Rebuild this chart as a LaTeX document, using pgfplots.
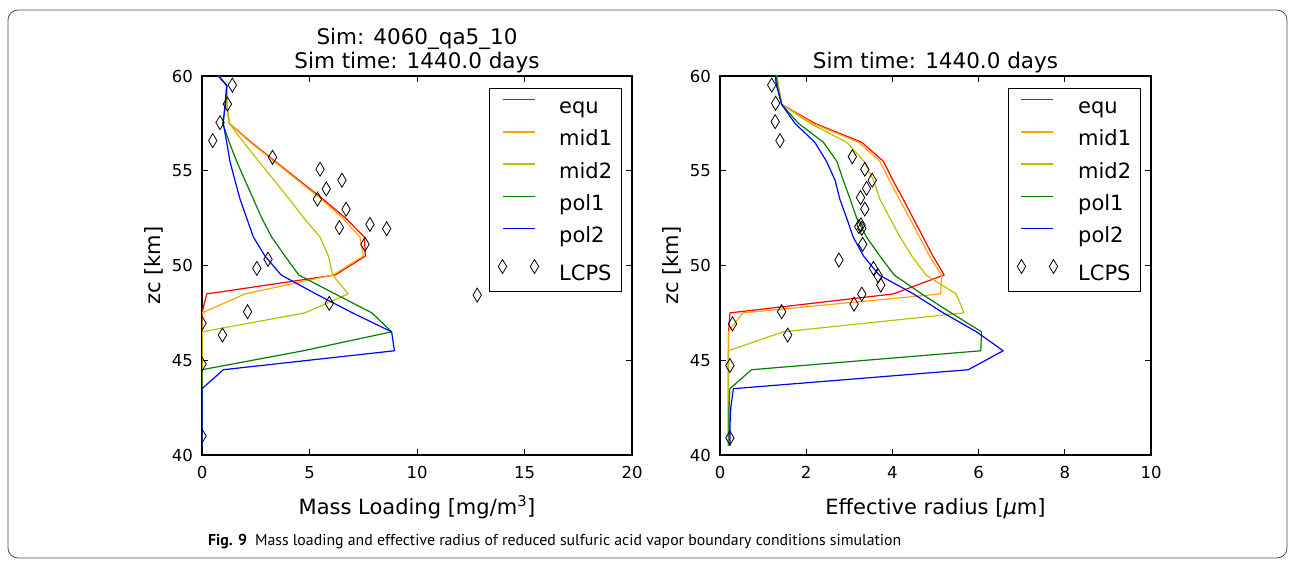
\documentclass[border=0pt]{standalone}
\usepackage{fontspec}
\setmainfont{DejaVu Sans}
\newfontfamily\capfont{PT Sans}
\usepackage{pgfplots}
\pgfplotsset{compat=1.18}
\usepackage{pgfplotstable}

\definecolor{mplorange}{rgb}{1,0.647,0}
\definecolor{mplyellow}{rgb}{0.75,0.75,0}
\definecolor{mplgreen}{rgb}{0,0.5,0}

\pgfplotstableread{
z equ mid1 mid2 pol1 pol2
60.5 0.40 0.40 0.40 0.40 0.37
59.5 1.15 1.15 1.15 1.15 1.15
58.5 1.15 1.15 1.15 1.10 1.07
57.5 1.27 1.27 1.27 0.96 0.99
56.5 2.29 2.25 1.93 1.27 1.15
55.5 3.40 3.35 2.64 1.61 1.30
54.5 4.51 4.45 3.35 2.00 1.53
53.5 5.63 5.55 4.06 2.39 1.77
52.5 6.68 6.55 4.74 2.78 2.08
51.5 7.55 7.35 5.49 3.24 2.39
50.5 7.60 7.50 5.88 3.86 2.93
49.5 6.20 6.10 6.08 4.50 3.68
48.5 0.22 2.00 6.80 6.19 5.30
47.5 0.00 0.00 4.79 7.90 7.00
46.5 0.00 0.00 0.00 8.82 8.82
45.5 0.00 0.00 0.00 4.71 8.95
44.5 0.00 0.00 0.00 0.00 0.99
43.5 0.00 0.00 0.00 0.00 0.00
42.5 0.00 0.00 0.00 0.00 0.00
41.5 0.00 0.00 0.00 0.00 0.00
40.5 0.00 0.00 0.00 0.00 0.00
}\mass

\pgfplotstableread{
z equ mid1 mid2 pol1 pol2
60.5 1.28 1.28 1.28 1.28 1.25
59.5 1.35 1.35 1.35 1.33 1.31
58.5 1.43 1.43 1.43 1.43 1.43
57.5 2.20 2.15 2.09 1.82 1.74
56.5 3.29 3.22 2.94 2.40 2.20
55.5 3.79 3.71 3.34 2.71 2.47
54.5 4.01 3.93 3.56 2.86 2.67
53.5 4.25 4.16 3.71 3.02 2.78
52.5 4.48 4.40 3.94 3.17 2.94
51.5 4.71 4.63 4.18 3.40 3.09
50.5 4.94 4.86 4.45 3.71 3.33
49.5 5.20 5.14 4.78 4.04 3.69
48.5 4.02 5.12 5.48 4.68 4.49
47.5 0.23 0.53 5.66 5.36 5.18
46.5 0.20 0.19 1.47 6.07 5.95
45.5 0.20 0.19 0.19 6.05 6.57
44.5 0.20 0.19 0.19 0.73 5.76
43.5 0.20 0.19 0.19 0.23 0.31
42.5 0.20 0.19 0.19 0.21 0.25
41.5 0.20 0.19 0.19 0.21 0.23
40.5 0.20 0.19 0.19 0.21 0.23
}\radius

\pgfplotstableread{
x z
1.41 59.52
1.18 58.52
0.84 57.54
0.50 56.59
3.28 55.71
5.49 55.08
6.51 54.50
5.78 54.04
5.37 53.50
6.70 52.97
7.81 52.17
8.59 51.94
6.39 52.00
7.58 51.12
3.07 50.33
2.55 49.85
12.8 48.44
5.92 48.00
2.12 47.56
0.00 46.95
0.95 46.33
0.00 44.80
0.00 41.00
}\lcpsmass

\pgfplotstableread{
x z
1.20 59.52
1.29 58.56
1.28 57.59
1.39 56.59
3.07 55.74
3.36 55.08
3.53 54.50
3.40 54.07
3.26 53.58
3.36 52.98
3.27 52.14
3.29 51.96
3.22 52.05
3.31 51.12
2.76 50.29
3.56 49.85
3.67 49.45
3.73 48.97
3.29 48.49
3.11 47.96
1.43 47.56
0.29 46.92
1.57 46.33
0.23 44.72
0.23 40.90
}\lcpsrad

\pgfplotsset{
  myaxis/.style={
    scale only axis, height=379pt, anchor=south west,
    ymin=40, ymax=60, ytick={40,45,...,60},
    xtick pos=both, ytick pos=both,
    tick align=inside, major tick length=6pt,
    axis line style={line width=1.3pt},
    every tick/.style={black, line width=0.9pt},
    tick label style={font=\fontsize{16.5}{20}\selectfont},
    /pgf/number format/assume math mode=true,
    xticklabel style={inner sep=0pt, yshift=-11pt},
    yticklabel style={inner sep=0pt, xshift=-9pt},
    label style={font=\fontsize{21}{24}\selectfont},
    xlabel style={at={(axis description cs:0.5,0)}, anchor=base, yshift=-59pt},
    ylabel style={at={(axis description cs:-0.096,0.5)}, anchor=base},
    every axis title/.style={at={(0.5,1)}, anchor=south, inner sep=0pt, yshift=2.7pt, align=center, font=\fontsize{21.5}{24}\selectfont},
    clip marker paths=true,
    legend cell align=left,
    legend style={at={(rel axis cs:0.976,0.9676)}, anchor=north east, draw=black, line width=1pt,
      font=\fontsize{21}{24}\selectfont,
      nodes={inner sep=0pt, text height=15pt, text depth=1pt},
      row sep=16.15pt, inner xsep=9pt, inner ysep=10pt},
    /tikz/every odd column/.append style={column sep=20.5pt},
  },
  ser/.style={line width=1.2pt, line join=round, color=#1,
    legend image code/.code={\draw[draw=#1, line width=1.3pt] (0pt,7pt) -- (32pt,7pt);}},
  lcps/.style={only marks, mark=diamond, mark size=7pt,
    mark options={xscale=0.8, draw=black, fill=none, line width=0.8pt, solid},
    legend image code/.code={\draw[##1] plot coordinates {(0pt,7pt) (32pt,7pt)};}},
}

\begin{document}
\begin{tikzpicture}[x=1pt,y=1pt]
\useasboundingbox (0,0) rectangle (1295,560);
\draw[rounded corners=10pt, line width=0.8pt, black!70] (8,2) rectangle (1287,550);

\begin{axis}[myaxis, at={(202pt,105pt)}, width=430pt,
  xmin=0, xmax=20, xtick={0,5,...,20},
  title={Sim: 4060\_qa5\_10\\Sim time: 1440.0 days},
  xlabel={Mass Loading [mg/m\textsuperscript{3}]}, ylabel={zc [km]}]
\addplot[ser=red] table[x=equ, y=z] {\mass};
\addplot[ser=mplorange] table[x=mid1, y=z] {\mass};
\addplot[ser=mplyellow] table[x=mid2, y=z] {\mass};
\addplot[ser=mplgreen] table[x=pol1, y=z] {\mass};
\addplot[ser=blue] table[x=pol2, y=z] {\mass};
\addplot[lcps] table[x=x, y=z] {\lcpsmass};
\legend{equ,mid1,mid2,pol1,pol2,LCPS}
\end{axis}

\begin{axis}[myaxis, at={(720pt,105pt)}, width=431pt,
  xmin=0, xmax=10, xtick={0,2,...,10},
  title={Sim time: 1440.0 days},
  xlabel={Effective radius [\textit{μ}m]}, ylabel={zc [km]}]
\addplot[ser=red] table[x=equ, y=z] {\radius};
\addplot[ser=mplorange] table[x=mid1, y=z] {\radius};
\addplot[ser=mplyellow] table[x=mid2, y=z] {\radius};
\addplot[ser=mplgreen] table[x=pol1, y=z] {\radius};
\addplot[ser=blue] table[x=pol2, y=z] {\radius};
\addplot[lcps] table[x=x, y=z] {\lcpsrad};
\legend{equ,mid1,mid2,pol1,pol2,LCPS}
\end{axis}

\node[anchor=base west, inner sep=0pt, font=\capfont\fontsize{15.8}{18}\selectfont] at (208,15)
  {\textbf{Fig. 9}\enspace Mass loading and effective radius of reduced sulfuric acid vapor boundary conditions simulation};
\end{tikzpicture}
\end{document}
